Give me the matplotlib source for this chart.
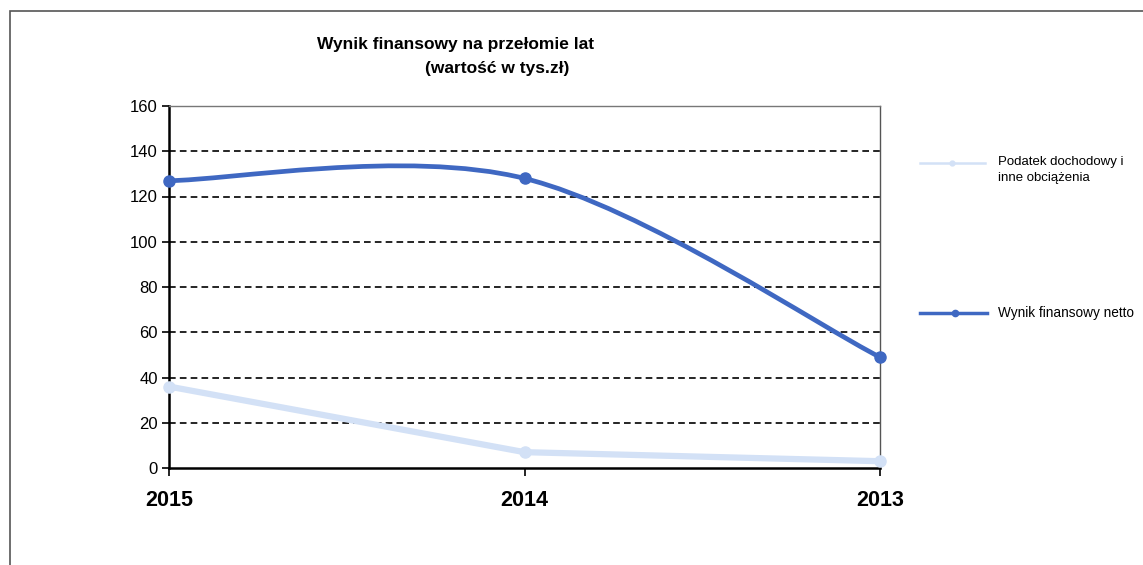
import matplotlib
matplotlib.use("Agg")
import matplotlib.pyplot as plt
from matplotlib.path import Path
from matplotlib.patches import PathPatch, Rectangle
from matplotlib.lines import Line2D

plt.rcParams['font.family'] = ['Liberation Sans', 'DejaVu Sans']

years = ["2015", "2014", "2013"]
podatek = [36, 7, 3]
wynik = [127, 128, 49]
y_ticks = [0, 20, 40, 60, 80, 100, 120, 140, 160]
label_podatek = "Podatek dochodowy i\ninne obciążenia"
label_wynik = "Wynik finansowy netto"
title = "Wynik finansowy na przełomie lat"
subtitle = "(wartość w tys.zł)"

dark = "#3f68c2"
light = "#d3e1f6"

fig = plt.figure(figsize=(11.43, 5.65), dpi=100)
fig.patches.append(Rectangle((10/1143, -0.1), 1.2, 1 - 11/565 + 0.1, transform=fig.transFigure,
                             fill=False, edgecolor="#555555", lw=1.2))
ax = fig.add_axes([169/1143, 1 - 468/565, (880-169)/1143, (468-106)/565])

x = list(range(len(years)))

# smoothed line (Catmull-Rom style Bezier, like Excel's smoothed line)
pts = list(zip(x, wynik))
verts = [pts[0]]
codes = [Path.MOVETO]
n = len(pts)
for i in range(n - 1):
    p0 = pts[i - 1] if i > 0 else pts[i]
    p1 = pts[i]
    p2 = pts[i + 1]
    p3 = pts[i + 2] if i + 2 < n else pts[i + 1]
    c1 = (p1[0] + (p2[0] - p0[0]) / 6, p1[1] + (p2[1] - p0[1]) / 6)
    c2 = (p2[0] - (p3[0] - p1[0]) / 6, p2[1] - (p3[1] - p1[1]) / 6)
    verts += [c1, c2, p2]
    codes += [Path.CURVE4] * 3
ax.add_patch(PathPatch(Path(verts, codes), facecolor="none", edgecolor=dark, lw=3.4,
                       capstyle="round", joinstyle="round", zorder=4, clip_on=False))
ax.plot(x, wynik, linestyle="none", marker="o", ms=8, color=dark, zorder=5, clip_on=False)

ax.plot(x, podatek, color=light, lw=4.5, marker="o", ms=8, solid_capstyle="round", zorder=3,
        clip_on=False)

ax.set_xlim(0, 2)
ax.set_ylim(0, 160)
ax.set_yticks(y_ticks)
ax.set_xticks(x)
ax.set_xticklabels(years, fontsize=15.5, fontweight="bold")
ax.tick_params(axis="y", labelsize=12, length=5, width=1.2, direction="out", pad=3)
ax.tick_params(axis="x", length=6, width=1.2, direction="out", pad=10)
for yv in y_ticks[1:-1]:
    ax.axhline(yv, color="black", lw=1.2, ls=(0, (4, 2.5)), zorder=1)
ax.spines["left"].set_linewidth(1.8)
ax.spines["bottom"].set_linewidth(1.8)
ax.spines["top"].set_color("#777777")
ax.spines["right"].set_color("#555555")
ax.spines["top"].set_linewidth(1.0)
ax.spines["right"].set_linewidth(1.0)

fig.text(456/1143, 1 - 45/565, title, ha="center", va="center", fontsize=12.5, fontweight="bold")
fig.text(497/1143, 1 - 69/565, subtitle, ha="center", va="center", fontsize=12.5, fontweight="bold")

# legend
fig.lines.append(Line2D([920/1143, 985/1143], [1 - 163/565] * 2, transform=fig.transFigure,
                        color=light, lw=1.8))
fig.lines.append(Line2D([952/1143], [1 - 163/565], transform=fig.transFigure,
                        color=light, marker="o", ms=3.5, ls="none"))
fig.text(998/1143, 1 - 170/565, label_podatek, ha="left", va="center", fontsize=9.5, linespacing=1.45)
fig.lines.append(Line2D([920/1143, 987/1143], [1 - 313/565] * 2, transform=fig.transFigure,
                        color=dark, lw=2.5))
fig.lines.append(Line2D([955/1143], [1 - 313/565], transform=fig.transFigure,
                        color=dark, marker="o", ms=4.5, ls="none"))
fig.text(998/1143, 1 - 313/565, label_wynik, ha="left", va="center", fontsize=9.8)

fig.savefig("out.png", dpi=100)
